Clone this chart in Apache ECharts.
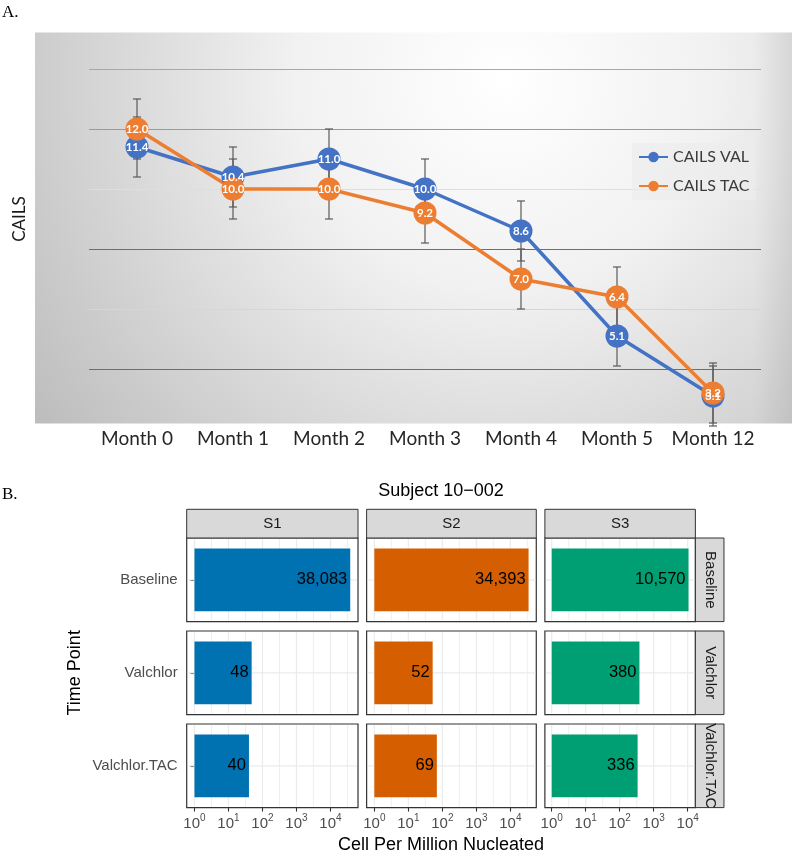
<!DOCTYPE html>
<html>
<head>
<meta charset="utf-8">
<script src="https://cdn.jsdelivr.net/npm/echarts@6/dist/echarts.min.js"></script>
<style>
html,body{margin:0;padding:0;background:#fff;}
#main{width:797px;height:854px;}
</style>
</head>
<body>
<div id="main"></div>
<script>
// ---- panel A data ----
var months = ['Month 0','Month 1','Month 2','Month 3','Month 4','Month 5','Month 12'];
var cailsVal = [11.4, 10.4, 11.0, 10.0, 8.6, 5.1, 3.1];
var cailsTac = [12.0, 10.0, 10.0, 9.2, 7.0, 6.4, 3.2];
var cailsValErr = [1.0, 1.0, 1.0, 1.0, 1.0, 1.0, 1.0];
var cailsTacErr = [1.0, 1.0, 1.0, 1.0, 1.0, 1.0, 1.0];

// ---- panel B data ----
var timePoints = ['Baseline', 'Valchlor', 'Valchlor.TAC'];
var samples = ['S1', 'S2', 'S3'];
var cellsS1 = [38083, 48, 40];
var cellsS2 = [34393, 52, 69];
var cellsS3 = [10570, 380, 336];
var logTicks = [0, 1, 2, 3, 4];
var logGridLines = [0, 0.5, 1, 1.5, 2, 2.5, 3, 3.5, 4, 4.5];

var cellsBySample = [cellsS1, cellsS2, cellsS3];
var sampleColors = ['#0072B2', '#D55E00', '#009E73'];
var fontA = 'Lato, "Open Sans", sans-serif';
var fontB = '"Liberation Sans", Arial, sans-serif';

var chart = echarts.init(document.getElementById('main'));

function commas(v){
	return String(v).replace(/\B(?=(\d{3})+(?!\d))/g, ',');
}

// error bars for panel A
function renderErr(params, api){
	var i = api.value(0), v = api.value(1), e = api.value(2);
	var hi = api.coord([i, v + e]), lo = api.coord([i, v - e]);
	var st = {stroke:'#5a5a5a', lineWidth:1.2};
	return {type:'group', children:[
		{type:'line', shape:{x1:hi[0], y1:hi[1], x2:lo[0], y2:lo[1]}, style:st},
		{type:'line', shape:{x1:hi[0]-4, y1:hi[1], x2:hi[0]+4, y2:hi[1]}, style:st},
		{type:'line', shape:{x1:lo[0]-4, y1:lo[1], x2:lo[0]+4, y2:lo[1]}, style:st}
	]};
}

// gridlines for panel B (ggplot style)
function renderPanelGrid(params, api){
	var g = api.value(0);
	var p = api.coord([g, 0]);
	var cs = params.coordSys;
	var major = Math.abs(g - Math.round(g)) < 1e-6;
	var kids = [{type:'line', shape:{x1:p[0], y1:cs.y + 1, x2:p[0], y2:cs.y + cs.height - 1},
		style:{stroke:'#ebebeb', lineWidth: major ? 1.2 : 0.8}}];
	if (params.dataIndex === 0) {
		kids.push({type:'line', shape:{x1:cs.x + 1, y1:p[1], x2:cs.x + cs.width - 1, y2:p[1]},
			style:{stroke:'#ebebeb', lineWidth:1.2}});
	}
	return {type:'group', children:kids};
}

var grids = [{left:89, top:9, width:672, height:420, outerBoundsMode:'none'}];
var xAxes = [{
	gridIndex:0, type:'category', data:months, boundaryGap:true,
	axisLine:{show:false}, axisTick:{show:false},
	axisLabel:{interval:0, fontSize:19, color:'#262626', fontFamily:fontA, margin:0}
}];
var yAxes = [{
	gridIndex:0, type:'value', min:2, max:16, interval:2,
	name:'CAILS', nameLocation:'middle', nameRotate:90, nameGap:61,
	nameTextStyle:{fontSize:17, color:'#1a1a1a', fontFamily:fontA},
	axisLine:{show:false}, axisTick:{show:false}, axisLabel:{show:false},
	splitLine:{show:true, showMinLine:false, showMaxLine:false,
		lineStyle:{color:['#6e6e6e','#d6d6d6','#6e6e6e','#dedede','#9a9a9a','#a8a8a8'], width:1.2}}
}];

var pointLabel = {show:true, position:'inside', color:'#fff', fontWeight:'bold', fontSize:11.5, fontFamily:fontA,
	formatter:function(p){ return p.value.toFixed(1); }};

var series = [
	{name:'errVal', type:'custom', xAxisIndex:0, yAxisIndex:0, z:1, silent:true,
		renderItem:renderErr, encode:{x:0, y:1},
		data:months.map(function(m, i){ return [i, cailsVal[i], cailsValErr[i]]; })},
	{name:'errTac', type:'custom', xAxisIndex:0, yAxisIndex:0, z:1, silent:true,
		renderItem:renderErr, encode:{x:0, y:1},
		data:months.map(function(m, i){ return [i, cailsTac[i], cailsTacErr[i]]; })},
	{name:'CAILS VAL', type:'line', xAxisIndex:0, yAxisIndex:0, z:3, data:cailsVal,
		symbol:'circle', symbolSize:23, color:'#4472C4',
		lineStyle:{width:3.5, color:'#4472C4'}, itemStyle:{color:'#4472C4'},
		label:pointLabel, labelLayout:{hideOverlap:false}, emphasis:{disabled:true}},
	{name:'CAILS TAC', type:'line', xAxisIndex:0, yAxisIndex:0, z:3, data:cailsTac,
		symbol:'circle', symbolSize:23, color:'#ED7D31',
		lineStyle:{width:3.5, color:'#ED7D31'}, itemStyle:{color:'#ED7D31'},
		label:pointLabel, labelLayout:{hideOverlap:false}, emphasis:{disabled:true}}
];

// ---- panel B layout (facet grid, free x per column) ----
var pxPerDecade = 34, colLeft = 186.7, colGap = 8.6;
var rowTop = 538, rowH = 83.6, rowGap = 9.4, stripW = 28.6;
var colX = [], colW = [], colLo = [], colHi = [];
var cx = colLeft;
for (var c = 0; c < samples.length; c++) {
	var L = Math.log10(Math.max.apply(null, cellsBySample[c]));
	colLo[c] = -0.05 * L;
	colHi[c] = L * 1.05;
	colX[c] = cx;
	colW[c] = (colHi[c] - colLo[c]) * pxPerDecade;
	cx += colW[c] + colGap;
}
var panelsRight = colX[2] + colW[2];

var graphics = [
	{type:'rect', z:-10, shape:{x:35, y:32.5, width:757, height:391},
		style:{fill:new echarts.graphic.RadialGradient(0.62, 0.12, 1.55, [
			{offset:0, color:'#ffffff'}, {offset:0.35, color:'#f1f1f1'}, {offset:1, color:'#b9b9b9'}])}},
	{type:'rect', z:-9, shape:{x:35, y:32.5, width:757, height:391},
		style:{fill:new echarts.graphic.LinearGradient(0, 0, 1, 0, [
			{offset:0, color:'rgba(0,0,0,0)'}, {offset:0.95, color:'rgba(0,0,0,0)'}, {offset:1, color:'rgba(0,0,0,0.07)'}])}},
	{type:'text', x:2, y:4, style:{text:'A.', fontSize:17, fontFamily:'"Liberation Serif", serif', fill:'#000'}},
	{type:'text', x:2, y:486, style:{text:'B.', fontSize:17, fontFamily:'"Liberation Serif", serif', fill:'#000'}},
	{type:'text', x:(colLeft + panelsRight) / 2, y:491,
		style:{text:'Subject 10\u2212002', fontSize:18, fontFamily:fontB, fill:'#000', align:'center', verticalAlign:'middle'}},
	{type:'text', x:(colLeft + panelsRight) / 2, y:845,
		style:{text:'Cell Per Million Nucleated', fontSize:18, fontFamily:fontB, fill:'#000', align:'center', verticalAlign:'middle'}},
	{type:'text', x:75, y:rowTop + (3 * rowH + 2 * rowGap) / 2, rotation:Math.PI / 2,
		style:{text:'Time Point', fontSize:18, fontFamily:fontB, fill:'#000', align:'center', verticalAlign:'middle'}}
];

for (var c = 0; c < samples.length; c++) {
	graphics.push({type:'rect', shape:{x:colX[c], y:rowTop - 28.7, width:colW[c], height:28.7},
		style:{fill:'#d9d9d9', stroke:'#333', lineWidth:1}});
	graphics.push({type:'text', x:colX[c] + colW[c] / 2, y:rowTop - 14.3,
		style:{text:samples[c], fontSize:15, fontFamily:fontB, fill:'#1a1a1a', align:'center', verticalAlign:'middle'}});
}

for (var r = 0; r < timePoints.length; r++) {
	var rowY = rowTop + r * (rowH + rowGap);
	graphics.push({type:'rect', shape:{x:panelsRight, y:rowY, width:stripW, height:rowH},
		style:{fill:'#d9d9d9', stroke:'#333', lineWidth:1}});
	graphics.push({type:'text', x:panelsRight + stripW / 2, y:rowY + rowH / 2, rotation:-Math.PI / 2,
		style:{text:timePoints[r], fontSize:15, fontFamily:fontB, fill:'#1a1a1a', align:'center', verticalAlign:'middle'}});

	for (var c = 0; c < samples.length; c++) {
		var k = grids.length;
		var v = cellsBySample[c][r];
		grids.push({left:colX[c], top:rowY, width:colW[c], height:rowH, show:true,
			backgroundColor:'#fff', borderColor:'#333', borderWidth:1.2, outerBoundsMode:'none'});
		xAxes.push({
			gridIndex:k, type:'value', min:colLo[c], max:colHi[c],
			axisLine:{show:false}, splitLine:{show:false},
			axisTick:{show:r === 2, customValues:logTicks, length:4, lineStyle:{color:'#333', width:1.1}},
			axisLabel:{show:r === 2, customValues:logTicks, margin:6,
				formatter:function(val){
					if (Math.abs(val - Math.round(val)) > 1e-6) return '';
					return '{b|10}{s|' + Math.round(val) + '}';
				},
				rich:{
					b:{fontSize:15, lineHeight:20, color:'#4d4d4d', fontFamily:fontB},
					s:{fontSize:10, lineHeight:10, verticalAlign:'top', color:'#4d4d4d', fontFamily:fontB}
				}}
		});
		yAxes.push({
			gridIndex:k, type:'category', data:[timePoints[r]], boundaryGap:true,
			axisLine:{show:false}, splitLine:{show:false},
			axisTick:{show:c === 0, alignWithLabel:true, length:4, lineStyle:{color:'#333', width:1.1}},
			axisLabel:{show:c === 0, fontSize:15, color:'#4d4d4d', fontFamily:fontB, margin:9}
		});
		series.push({
			type:'custom', xAxisIndex:k, yAxisIndex:k, z:1, silent:true, clip:true,
			renderItem:renderPanelGrid, encode:{x:0, y:1},
			data:logGridLines.filter(function(g){ return g >= colLo[c] && g <= colHi[c]; })
				.map(function(g){ return [g, 0]; })
		});
		series.push({
			type:'bar', xAxisIndex:k, yAxisIndex:k, z:2, silent:true, barWidth:'75%',
			itemStyle:{color:sampleColors[c]},
			label:{show:true, position:'insideRight', distance:3, fontSize:16.5, color:'#000', fontFamily:fontB,
				formatter:function(p){ return commas(p.data.raw); }},
			data:[{value:Math.log10(v), raw:v}]
		});
	}
}

var option = {
	backgroundColor:'#fff',
	animation:false,
	grid:grids,
	xAxis:xAxes,
	yAxis:yAxes,
	legend:{
		data:['CAILS VAL', 'CAILS TAC'], orient:'vertical', left:632, top:143,
		padding:[6, 6, 6, 6], itemGap:13, itemWidth:29, itemHeight:13,
		backgroundColor:'rgba(236,236,236,0.7)',
		textStyle:{fontSize:16, color:'#3a3a3a', fontFamily:fontA},
		selectedMode:false
	},
	graphic:graphics,
	series:series
};
chart.setOption(option);
</script>
</body>
</html>
